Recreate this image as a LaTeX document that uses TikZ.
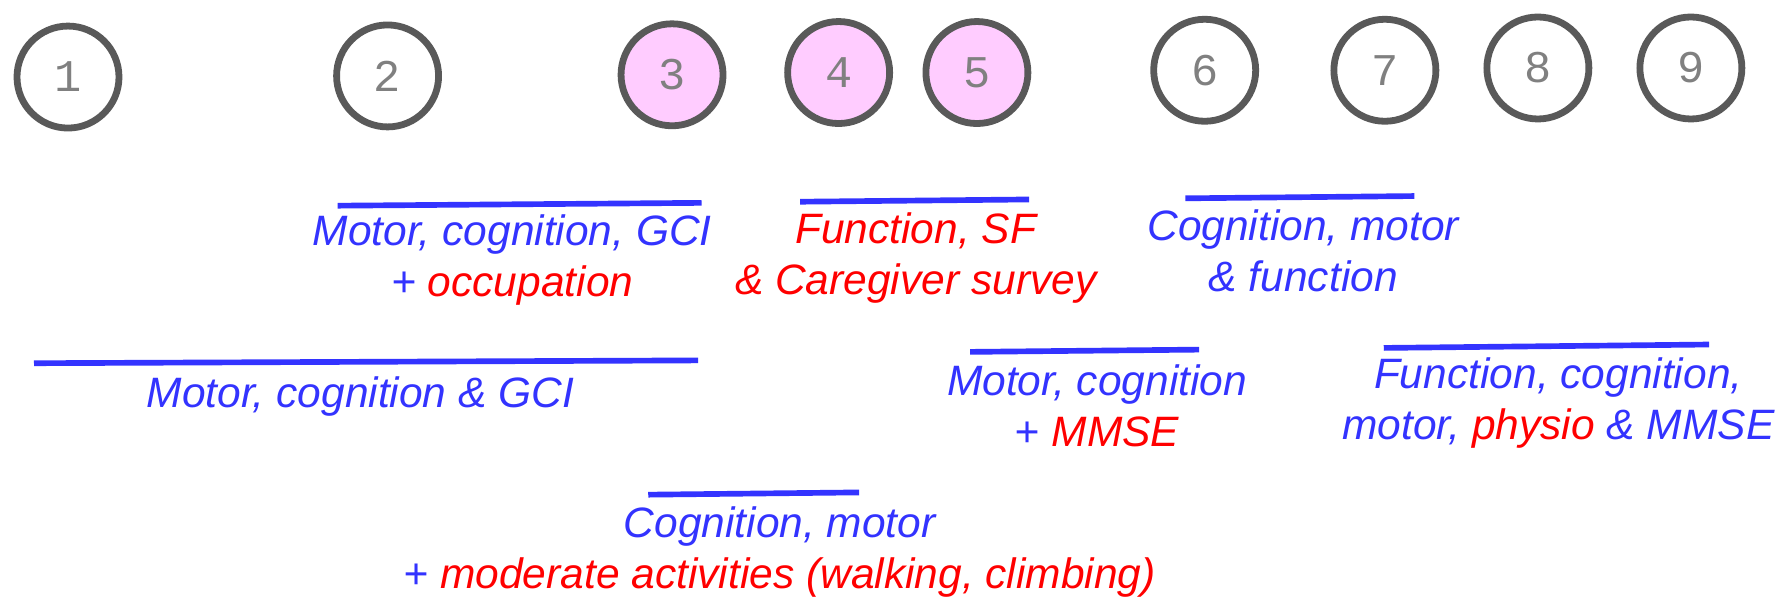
\documentclass[tikz,border=0pt]{standalone}
\usepackage{fontspec}
\setmainfont{Liberation Sans}
\newfontfamily\digitfont{Liberation Mono}
\definecolor{ringgray}{HTML}{595959}
\definecolor{digitgray}{HTML}{808080}
\definecolor{pinkfill}{HTML}{FFCCFF}
\definecolor{lblue}{HTML}{3333FF}
\definecolor{lred}{HTML}{FF0000}
\newcommand{\rd}[1]{\textcolor{lred}{#1}}
\begin{document}
\begin{tikzpicture}[x=1pt,y=-1pt,
  circ/.style={circle,draw=ringgray,line width=6pt,minimum size=90pt,inner sep=0pt,
    text=digitgray,font=\digitfont\fontsize{40}{40}\selectfont},
  pinkcirc/.style={circ,fill=pinkfill},
  bar/.style={draw=lblue,line width=5pt},
  lbl/.style={align=center,text=lblue,inner sep=0pt,
    font=\itshape\fontsize{37.5}{45}\selectfont}]
\useasboundingbox (0,0) rectangle (1568,526);
% circles
\node[circ] (c1) at (60,68) {1};
\node[circ] (c2) at (342,67) {2};
\node[pinkcirc] (c3) at (593,66) {3};
\node[pinkcirc] (c4) at (740,64) {4};
\node[pinkcirc] (c5) at (862,64) {5};
\node[circ] (c6) at (1063,62) {6};
\node[circ] (c7) at (1222,62) {7};
\node[circ] (c8) at (1357,60) {8};
\node[circ] (c9) at (1492,60) {9};
% bars
\draw[bar] (298,181.5) -- (619,179);
\draw[bar] (706,178) -- (908,176);
\draw[bar] (1046,175) -- (1248,173);
\draw[bar] (30,320.5) -- (616,318);
\draw[bar] (856,310.5) -- (1058,308.5);
\draw[bar] (1221,307) -- (1508,304);
\draw[bar] (572,436.5) -- (758,434.5);
% labels
\node[lbl] (la) at (452,229) {Motor, cognition, GCI\\+ \rd{occupation}};
\node[lbl] (lb) at (808,228) {\rd{Function, SF}\\\rd{\& Caregiver survey}};
\node[lbl] (lc) at (1150,221) {Cognition, motor\\\& function};
\node[lbl] (ld) at (318,350) {Motor, cognition \& GCI};
\node[lbl] (le) at (968,358) {Motor, cognition\\+ \rd{MMSE}};
\node[lbl] (lf) at (1375,356) {Function, cognition,\\motor, \rd{physio} \& MMSE};
\node[lbl] (lg) at (688,487) {Cognition, motor\\+ \rd{moderate activities (walking, climbing)}};
\end{tikzpicture}
\end{document}
